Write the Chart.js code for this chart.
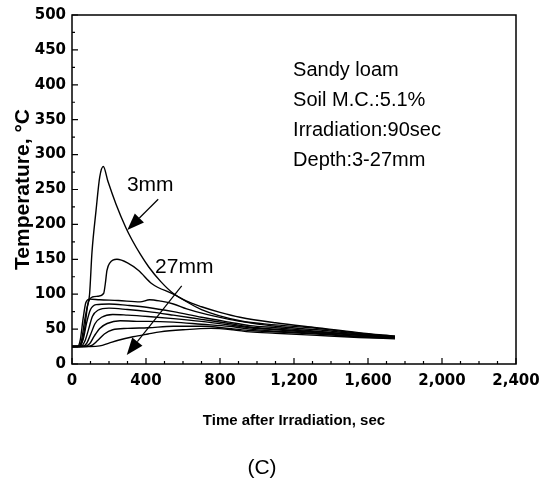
<!DOCTYPE html>
<html>
<head>
<meta charset="utf-8">
<script src="https://cdn.jsdelivr.net/npm/chart.js@4.4.0/dist/chart.umd.min.js"></script>
<style>
  html, body { margin: 0; padding: 0; background: #fff; }
</style>
</head>
<body>
<canvas id="graph" width="555" height="485"></canvas>
<script>
'use strict';

// soil temperature after irradiation, one curve per depth (3mm on top, 27mm at the bottom)
var time3 = [0, 30, 50, 68, 82, 95, 108, 130, 150, 169, 195, 238, 290, 324, 370, 415, 480, 548, 620, 700, 800, 908, 1100, 1323, 1550, 1746];
var temp3 = [25, 25, 29, 50, 80, 100, 160, 220, 268, 283, 261, 229, 196, 178, 157, 139, 118, 101, 90, 82, 74, 67, 59, 52, 45, 40];

var time6 = [0, 30, 50, 70, 90, 110, 140, 171, 180, 189, 205, 243, 300, 360, 432, 548, 700, 908, 1100, 1323, 1550, 1746];
var temp6 = [25, 25, 32, 65, 90, 96, 97, 101, 115, 134, 145, 150, 145, 134, 115, 100, 78, 62, 56, 51, 44, 39];

var time9 = [0, 30, 45, 60, 75, 95, 150, 250, 368, 420, 480, 548, 620, 728, 850, 962, 1100, 1323, 1550, 1746];
var temp9 = [25, 25, 35, 65, 88, 93, 92, 91, 89, 92, 90, 86, 79, 71, 64, 59, 54, 49, 43, 39];

var time12 = [0, 40, 60, 80, 100, 130, 200, 300, 411, 548, 700, 850, 962, 1100, 1323, 1550, 1746];
var temp12 = [25, 25, 35, 60, 78, 85, 86, 84, 81, 75, 67, 60, 55, 52, 47, 42, 40];

var time15 = [0, 45, 70, 90, 110, 140, 200, 300, 411, 548, 700, 850, 962, 1100, 1323, 1550, 1746];
var temp15 = [25, 25, 33, 50, 68, 77, 80, 78, 75, 70, 64, 58, 53, 50, 46, 42, 39];

var time18 = [0, 55, 80, 100, 125, 160, 220, 300, 411, 548, 700, 850, 962, 1100, 1323, 1550, 1746];
var temp18 = [25, 25, 30, 42, 58, 67, 71, 70, 68, 65, 61, 56, 52, 49, 45, 41, 38];

var time21 = [0, 65, 95, 120, 150, 190, 260, 350, 411, 548, 700, 850, 962, 1100, 1323, 1550, 1746];
var temp21 = [25, 25, 29, 40, 51, 58, 62, 61, 61, 60, 57, 54, 50, 47, 44, 40, 38];

var time24 = [0, 80, 110, 140, 175, 220, 300, 411, 548, 700, 850, 962, 1100, 1323, 1550, 1746];
var temp24 = [25, 25, 27, 34, 43, 49, 51, 52, 54, 54, 51, 48, 46, 43, 39, 37];

var time27 = [0, 100, 150, 200, 250, 330, 411, 476, 600, 750, 870, 962, 1100, 1323, 1550, 1746];
var temp27 = [25, 25, 26, 30, 34, 39, 43, 46, 49, 51, 49, 46, 44, 41, 38, 36];

var depths = ['3mm', '6mm', '9mm', '12mm', '15mm', '18mm', '21mm', '24mm', '27mm'];
var times = [time3, time6, time9, time12, time15, time18, time21, time24, time27];
var temps = [temp3, temp6, temp9, temp12, temp15, temp18, temp21, temp24, temp27];

var xTickValues = [0, 400, 800, 1200, 1600, 2000, 2400];
var yTickValues = [0, 50, 100, 150, 200, 250, 300, 350, 400, 450, 500];

var noteLines = ['Sandy loam', 'Soil M.C.:5.1%', 'Irradiation:90sec', 'Depth:3-27mm'];

var datasets = depths.map(function(d, j) {
  return {
    label: d,
    data: times[j].map(function(t, i) { return { x: t, y: temps[j][i] }; }),
    borderColor: '#000',
    borderWidth: 1.4,
    pointRadius: 0,
    fill: false,
    cubicInterpolationMode: 'monotone'
  };
});

function arrow(ctx, x0, y0, x1, y1) {
  var a = Math.atan2(y1 - y0, x1 - x0);
  var len = 17, hw = 6.5;
  var bx = x1 - len * Math.cos(a), by = y1 - len * Math.sin(a);
  ctx.beginPath();
  ctx.moveTo(x0, y0);
  ctx.lineTo(bx, by);
  ctx.stroke();
  ctx.beginPath();
  ctx.moveTo(x1, y1);
  ctx.lineTo(bx + hw * Math.sin(a), by - hw * Math.cos(a));
  ctx.lineTo(bx - hw * Math.sin(a), by + hw * Math.cos(a));
  ctx.closePath();
  ctx.fill();
}

var decor = {
  id: 'decor',
  afterDatasetsDraw: function(chart) {
    var ctx = chart.ctx, a = chart.chartArea;
    var x = chart.scales.x, y = chart.scales.y;
    ctx.save();
    ctx.strokeStyle = '#000';
    ctx.fillStyle = '#000';
    ctx.lineWidth = 1.5;
    ctx.strokeRect(a.left, a.top, a.right - a.left, a.bottom - a.top);

    // inward ticks, minor every 100 sec / 25 deg
    ctx.lineWidth = 1.2;
    ctx.beginPath();
    for (var v = 0; v <= 2400; v += 100) {
      var px = x.getPixelForValue(v);
      ctx.moveTo(px, a.bottom);
      ctx.lineTo(px, a.bottom - (v % 400 === 0 ? 6 : 3));
    }
    for (var w = 0; w <= 500; w += 25) {
      var py = y.getPixelForValue(w);
      ctx.moveTo(a.left, py);
      ctx.lineTo(a.left + (w % 50 === 0 ? 6 : 3), py);
    }
    ctx.stroke();

    // depth labels and arrows
    ctx.font = '21px "Liberation Sans", Arial, sans-serif';
    ctx.textBaseline = 'alphabetic';
    ctx.fillText('3mm', x.getPixelForValue(297), y.getPixelForValue(248));
    ctx.fillText('27mm', x.getPixelForValue(449), y.getPixelForValue(131));
    ctx.lineWidth = 1.2;
    arrow(ctx, x.getPixelForValue(466), y.getPixelForValue(236), x.getPixelForValue(299), y.getPixelForValue(192));
    arrow(ctx, x.getPixelForValue(593), y.getPixelForValue(112), x.getPixelForValue(296), y.getPixelForValue(13));

    // notes
    ctx.font = '20px "Liberation Sans", Arial, sans-serif';
    var nx = x.getPixelForValue(1195), ny = y.getPixelForValue(413);
    noteLines.forEach(function(s, i) { ctx.fillText(s, nx, ny + i * 30); });

    // panel letter
    ctx.textAlign = 'center';
    ctx.font = '21px "Liberation Sans", Arial, sans-serif';
    ctx.fillText('(C)', 262, 474);
    ctx.restore();
  }
};

var tickFont = { family: '"DejaVu Sans", sans-serif', size: 15, weight: 'bold' };

var ctx = document.getElementById('graph').getContext('2d');
var myChart = new Chart(ctx, {
  type: 'line',
  data: { datasets: datasets },
  options: {
    responsive: false,
    animation: false,
    layout: { padding: { left: 0, right: 39, top: 13, bottom: 30 } },
    plugins: {
      legend: { display: false },
      tooltip: { enabled: false }
    },
    scales: {
      x: {
        type: 'linear', min: 0, max: 2400,
        grid: { display: false, drawTicks: false },
        border: { display: false },
        afterBuildTicks: function(s) { s.ticks = xTickValues.map(function(v) { return { value: v }; }); },
        afterFit: function(s) { s.height = 91; },
        ticks: {
          color: '#000', font: tickFont, padding: 8, maxRotation: 0, autoSkip: false,
          callback: function(v) { return v.toLocaleString('en-US'); }
        },
        title: {
          display: true, text: 'Time after Irradiation, sec', color: '#000',
          font: { family: '"Liberation Sans", sans-serif', size: 15, weight: 'bold' },
          padding: { top: 0, bottom: 25 }
        }
      },
      y: {
        type: 'linear', min: 0, max: 500,
        grid: { display: false, drawTicks: false },
        border: { display: false },
        afterBuildTicks: function(s) { s.ticks = yTickValues.map(function(v) { return { value: v }; }); },
        afterFit: function(s) { s.width = 72; },
        ticks: { color: '#000', font: tickFont, padding: 6, autoSkip: false },
        title: {
          display: true, text: 'Temperature, °C', color: '#000',
          font: { family: '"Liberation Sans", sans-serif', size: 21, weight: 'bold' },
          padding: { top: 11, bottom: 0 }
        }
      }
    }
  },
  plugins: [decor]
});
</script>
</body>
</html>
